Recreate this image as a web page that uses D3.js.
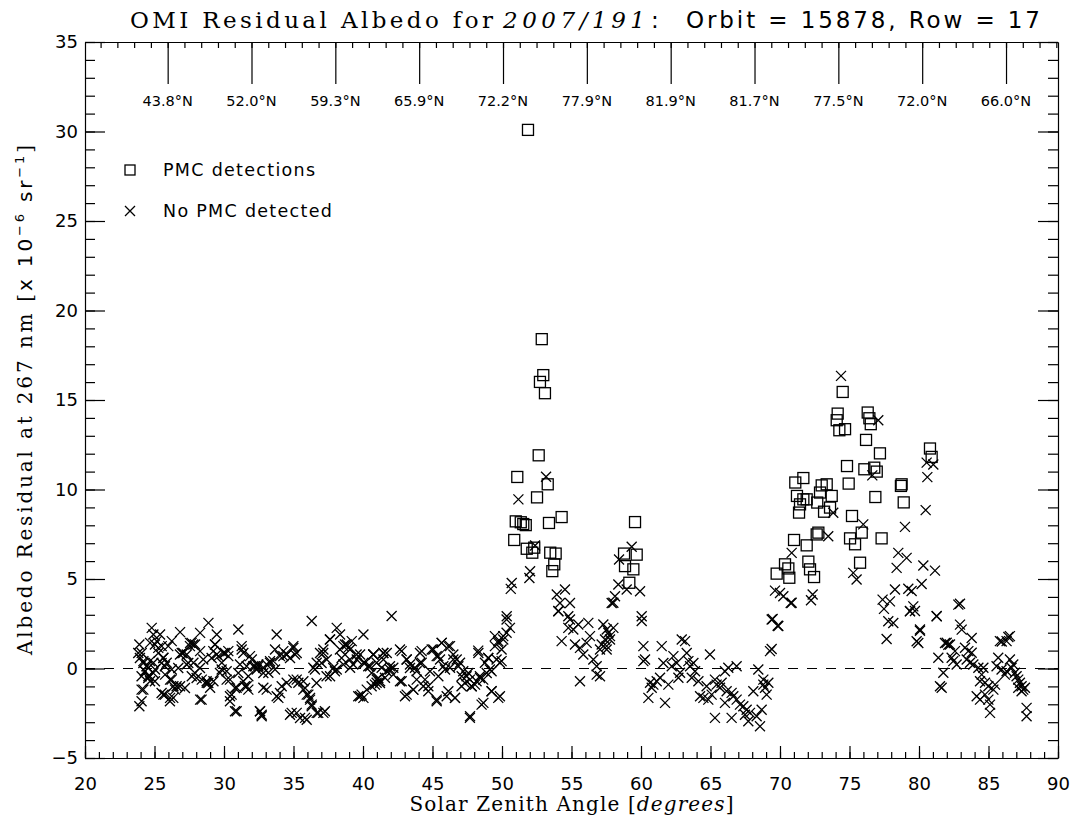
<!DOCTYPE html>
<html>
<head>
<meta charset="utf-8">
<script src="https://cdn.jsdelivr.net/npm/d3@7"></script>
<style>
  body { margin: 0; background: #fff; }
  svg { display: block; }
</style>
</head>
<body>
<svg id="chart" width="1071" height="821"></svg>
<script>
// tick labels
const xTicks = [20, 25, 30, 35, 40, 45, 50, 55, 60, 65, 70, 75, 80, 85, 90];
const yTicks = [-5, 0, 5, 10, 15, 20, 25, 30, 35];
const latLabels = ["43.8°N", "52.0°N", "59.3°N", "65.9°N", "72.2°N", "77.9°N",
                   "81.9°N", "81.7°N", "77.5°N", "72.0°N", "66.0°N"];

// [solar zenith angle, albedo residual]
const pmcDetections = [
  [51.87,30.09],[52.86,18.40],[52.97,16.39],[52.73,16.01],[53.09,15.38],[52.64,11.91],[51.10,10.70],
  [53.29,10.29],[52.52,9.56],[50.99,8.22],[51.35,8.17],[51.53,8.07],[51.71,8.01],[53.38,8.13],[54.29,8.46],
  [50.88,7.18],[51.78,6.69],[52.18,6.47],[52.32,6.75],[53.47,6.47],[53.86,6.42],[53.76,5.82],[53.62,5.44],
  [59.57,8.18],[58.78,6.42],[59.69,6.36],[58.85,5.72],[59.45,5.54],[59.16,4.79],
  [74.51,15.45],[74.15,14.24],[74.08,13.87],[74.27,13.31],[74.68,13.37],[76.31,14.30],[76.43,13.98],
  [76.53,13.65],[76.19,12.77],[77.19,12.02],[80.79,12.29],[80.91,11.82],[74.82,11.31],[76.07,11.13],
  [76.78,11.22],[76.96,11.00],[74.94,10.33],[78.75,10.29],[78.70,10.20],[71.10,10.39],[71.68,10.64],
  [73.00,10.23],[73.36,10.29],[76.86,9.58],[78.90,9.28],[71.22,9.64],[71.68,9.45],[71.92,9.45],
  [72.88,9.83],[73.72,9.64],[71.44,9.17],[72.68,9.27],[73.60,8.99],[71.37,8.71],[73.17,8.76],[75.18,8.52],
  [72.76,7.59],[72.64,7.49],[75.88,7.59],[75.04,7.27],[75.40,6.94],[77.31,7.27],[71.01,7.18],[71.92,6.88],
  [75.76,5.91],[70.36,5.82],[70.60,5.59],[69.76,5.30],[70.67,5.07],[72.04,5.97],[72.16,5.54],[72.45,5.11]
];

const noPmcDetected = [
  [23.91,-2.11],[24.07,-1.83],[23.83,0.87],[23.95,0.59],[24.2,0.31],[24.07,-0.43],[24.07,-1.18],[24.43,0.13],
  [24.31,-0.15],[24.55,-0.53],[24.67,0.41],[24.91,-0.25],[25.03,-0.71],[25.03,1.34],[25.27,1.15],[25.51,0.31],
  [25.63,0.59],[25.75,0.13],[25.51,-1.37],[25.75,-1.46],[25.99,1.25],[26.23,-0.62],[26.11,-1.83],[26.35,-1.64],
  [26.59,-0.99],[26.71,0.03],[26.83,0.78],[27.07,0.87],[27.19,-1.09],[27.31,0.22],[27.43,0.31],[27.55,1.25],
  [27.67,1.43],[27.79,1.34],[27.91,-0.25],[28.03,-0.53],[28.27,0.03],[28.39,-1.74],[28.51,0.50],[28.75,-0.71],
  [28.87,-0.81],[29.11,0.59],[29.23,0.97],[29.35,1.34],[29.47,0.78],[29.71,-0.25],[29.83,-0.06],[30.07,0.87],
  [30.19,-0.62],[30.31,0.69],[30.43,-1.83],[30.55,-1.46],[30.79,-1.09],[30.91,-2.39],[31.03,-0.25],[31.27,1.06],
  [31.39,-0.71],[31.63,-0.99],[31.75,-1.18],[31.87,0.69],[32.11,0.13],[32.35,-0.06],[32.47,0.13],[32.59,-2.39],
  [32.71,-2.58],[32.83,-0.25],[33.07,-1.18],[33.31,0.41],[33.55,0.41],[33.67,1.06],[33.91,-1.64],[34.03,-1.37],
  [34.27,0.69],[34.51,0.78],[34.75,0.59],[34.87,-2.48],[34.99,1.25],[35.11,0.78],[35.23,-0.62],[35.47,-2.77],
  [35.71,-0.71],[35.83,-1.09],[35.95,-2.86],[36.07,-1.46],[36.19,-1.64],[36.31,-2.02],[36.54,-0.06],[36.66,-0.81],
  [36.78,-2.48],[37.02,0.31],[37.14,0.87],[37.26,-2.39],[37.38,-0.43],[37.62,1.62],[37.86,0.03],[37.98,-0.15],
  [38.34,1.06],[38.46,0.59],[38.70,1.34],[38.94,1.15],[39.06,0.50],[39.30,0.22],[39.54,0.78],[39.66,-1.55],
  [39.90,-1.46],[40.14,0.31],[40.38,0.13],[40.62,-0.25],[40.74,0.78],[40.86,-0.90],[41.10,-0.53],[41.22,-0.81],
  [41.46,0.87],[41.70,-0.15],[41.94,0.13],[42.18,-0.34],[42.66,1.06],[42.78,-0.71],[43.02,-1.55],[43.14,0.50],
  [43.38,0.03],[43.62,-1.18],[43.86,-0.15],[44.10,0.31],[44.22,0.97],[44.46,-0.62],[44.70,-0.99],[44.82,-0.15],
  [45.06,1.06],[45.30,-1.83],[45.42,0.69],[45.66,1.43],[45.90,-0.06],[46.02,-1.55],[46.26,1.25],[46.50,0.50],
  [46.62,-1.64],[46.86,0.13],[47.10,-0.43],[47.34,-0.81],[47.58,-0.25],[47.70,-2.67],[47.82,-0.99],[48.06,-0.90],
  [48.30,0.87],[48.42,-0.53],[48.66,-1.92],[48.90,-0.25],[49.01,0.59],[49.25,-1.27],[49.49,1.25],[49.73,1.43],
  [49.85,-1.55],[49.97,0.41],[50.09,1.62],
  [24.80,2.27],[24.92,1.90],[25.40,1.90],[26.84,2.03],[28.28,1.99],[28.88,2.55],[29.48,1.90],[31.03,2.18],
  [33.79,1.90],[36.31,2.65],[38.11,2.27],[40.03,1.90],[37.63,1.62],[42.06,2.93],[50.33,2.74],[50.57,2.27],
  [49.49,1.81],[49.73,1.53],[50.09,1.81],[50.33,2.0],[45.66,1.43],
  [23.91,1.34],[24.08,0.87],[25.16,1.53],[25.52,1.25],[25.28,0.87],[24.68,1.43],[24.20,0.41],[24.44,0.13],
  [24.32,-0.15],[24.56,-0.43],[24.68,-0.71],[24.20,-1.18],[24.92,0.32],[25.04,-0.06],[25.64,0.60],[25.88,0.32],
  [25.76,-0.34],[26.12,-0.62],[26.36,-0.99],[25.64,-1.46],[26.12,-1.64],[26.48,-1.18],[26.84,-0.99],[26.24,-0.06],
  [26.24,1.53],[26.96,0.87],[27.32,0.78],[27.56,1.43],[27.92,1.34],[27.80,0.32],[27.68,-0.43],[28.28,0.97],
  [28.40,-0.62],[28.76,-0.80],[29.00,-1.08],[29.24,-0.71],[29.36,1.34],[29.60,0.69],[29.96,0.87],[30.31,0.97],
  [29.84,0.32],[30.19,-0.15],[30.43,-0.62],[30.43,-1.55],[30.79,-2.39],[31.27,1.25],[31.39,0.87],[31.15,0.22],
  [31.63,0.13],[31.75,-0.43],[31.51,-0.99],[30.91,-1.08],[32.0,0.50],[32.23,0.13],[32.47,0.22],[32.83,0.04],
  [33.07,0.22],[33.31,0.32],[34.03,0.69],[34.27,0.97],[34.51,0.78],[34.99,1.15],[35.23,0.87],[33.67,-0.06],
  [33.19,-0.24],[32.83,-1.08],[33.79,-1.55],[34.15,-0.99],[34.51,-0.80],[34.99,-0.62],[35.35,-0.80],[35.71,-1.18],
  [35.95,-1.46],[36.19,-1.74],[36.31,-2.11],[36.67,-2.48],[37.15,-2.48],[35.83,-2.76],[35.23,-2.48],[34.75,-2.58],
  [32.59,-2.39],[32.71,-2.67],[28.28,-1.74],[36.43,0.04],[36.67,0.32],[36.91,0.87],[37.15,1.06],[37.39,0.50],
  [38.35,1.90],[38.59,1.25],[38.83,1.34],[39.07,1.06],[39.19,1.53],[37.63,-0.43],[38.11,-0.06],[38.59,0.22],
  [39.07,0.04],[39.55,0.50],[39.79,0.78],[40.03,0.32],[40.51,0.13],[40.75,0.78],[40.99,-0.62],[41.23,-0.71],
  [41.47,0.50],[41.71,0.87],[40.03,-1.64],[39.79,-1.55],[40.27,-1.18],
  [40.74,0.78],[41.46,0.87],[40.98,0.32],[41.34,0.04],[41.94,-0.06],[42.18,0.04],[40.62,-0.99],[40.98,-0.80],
  [41.58,-0.52],[42.66,-0.71],[42.78,0.97],[43.14,0.50],[43.38,0.22],[43.74,0.04],[44.10,0.87],[44.22,0.32],
  [43.86,-0.62],[43.62,-1.18],[43.14,-1.46],[44.34,-0.99],[44.70,-1.27],[44.94,1.06],[45.30,0.69],[45.54,0.50],
  [45.78,0.13],[46.14,1.25],[46.50,0.78],[46.74,0.50],[46.98,0.32],[46.26,0.04],[45.42,-0.43],[46.14,-1.27],
  [46.62,-1.64],[45.30,-1.74],[47.21,-0.15],[47.45,-0.43],[47.69,-0.62],[47.09,-0.99],[47.81,-0.99],[48.17,-0.71],
  [48.41,-0.43],[48.29,1.0],[48.77,0.32],[49.01,0.59],[49.13,-0.06],[48.65,-0.62],
  [49.97,1.06],[49.61,0.50],[49.85,0.32],[49.25,-0.15],[49.73,-1.64],[49.25,-1.27],[48.53,-2.02],[47.69,-2.76],
  [53.17,10.71],[51.18,9.45],[52.38,6.87],[52.02,5.43],[51.97,5.06],[50.70,4.78],[50.63,4.45],[53.94,4.13],
  [54.53,4.41],[54.17,3.66],[54.89,3.66],[54.06,3.19],[50.34,2.92],[54.77,2.92],[59.33,6.80],[58.42,6.09],
  [58.37,4.69],[58.13,4.04],[57.89,3.66],[58.97,4.41],[59.93,4.32],[60.05,2.92],
  [54.05,3.21],[54.89,2.74],[54.77,2.27],[55.13,2.18],[55.49,2.46],[56.21,2.55],[54.29,1.53],[55.25,1.34],
  [55.61,1.15],[56.09,1.43],[56.33,1.81],[55.85,0.78],[56.57,0.50],[56.81,0.13],[56.81,-0.34],[55.61,-0.71],
  [57.29,2.46],[57.65,2.0],[58.01,2.27],[57.41,1.62],[57.77,1.62],[57.05,1.06],[57.53,1.25],[57.17,1.34],
  [58.01,3.67],[57.53,2.18],[57.77,1.81],[57.53,1.06],[57.05,-0.43],[60.05,2.65],[60.17,1.25],[60.29,0.50],
  [60.17,0.41],[61.49,1.25],[61.61,0.31],[60.65,-0.80],[60.89,-0.90],[61.13,-0.71],[60.77,-1.08],[60.53,-1.64],
  [61.73,-1.92],[61.37,-0.52],[61.97,-0.90],[62.33,0.69],[62.21,0.13],[62.57,0.31],[62.93,1.62],[63.17,1.53],
  [62.81,-0.24],[62.69,-0.52],[63.29,0.87],[63.41,0.41],[63.77,0.31],[63.53,0.13],[63.65,-0.52],[63.89,-0.15],
  [64.13,-0.71],[64.25,-1.55],[64.49,-1.64],[64.72,-0.99],[64.96,0.78],[64.84,-1.74],[65.32,-0.62],[65.44,-0.90],
  [65.68,-1.08],[65.80,-0.80],[65.32,-2.76],[65.08,-1.46],[66.04,-0.15],[66.28,0.04],[66.88,0.13],[66.16,-1.27],
  [66.04,-1.92],[66.52,-1.36],[66.64,-1.55],[66.88,-1.74],[67.12,-2.02],[66.52,-2.76],[67.36,-2.11],[67.60,-2.30],
  [67.84,-2.48],[67.48,-2.58],[67.72,-2.95],[68.08,-1.27],[68.44,-0.06],[68.32,-2.67],[68.56,-3.23],[68.68,-2.30],
  [68.80,-0.90],[68.92,-1.08],[69.04,-1.46],[69.16,-0.80],[68.80,-0.62],[69.28,0.97],[69.40,2.74],[69.88,2.37],
  [70.84,3.67],
  [74.39,16.35],[77.07,13.87],[76.64,10.79],[73.83,8.70],[75.99,8.05],[73.47,7.39],[70.84,6.46],[80.55,11.50],
  [81.03,11.40],[80.60,10.69],[80.48,8.85],[78.99,7.91],[75.27,5.34],[75.51,4.97],[72.35,4.13],[72.23,3.81],
  [69.64,4.35],[70.0,4.22],[70.24,4.04],[70.77,3.66],[69.47,2.77],[69.83,2.39],[69.40,1.09],[78.51,6.46],
  [79.11,6.18],[78.39,5.62],[80.31,5.75],[81.15,5.47],[78.27,4.41],[79.23,4.46],[80.19,4.72],[77.38,3.85],
  [77.91,3.75],[77.48,3.33],[79.35,3.19],[79.59,3.47],[81.27,2.91],[77.79,2.64],[78.15,2.54],[77.67,1.65],
  [80.07,2.11],[79.83,1.52],[79.95,1.42],[82.83,3.57],[82.95,2.45],[83.07,2.17],[83.79,1.70],[81.87,1.42],
  [82.11,1.33],[85.95,1.51],[86.43,1.76],
  [79.47,4.33],[79.35,3.21],[79.71,3.21],[80.07,2.18],[81.27,2.93],[82.95,3.62],[81.39,0.60],[81.75,-0.24],
  [81.51,-0.99],[81.63,-1.08],[81.99,1.44],[82.23,1.34],[82.59,0.97],[82.35,0.60],[82.47,0.41],[82.71,0.22],
  [83.31,1.16],[83.55,0.97],[83.79,0.88],[83.43,0.50],[83.67,0.32],[83.91,0.22],[84.27,0.04],[84.63,0.04],
  [84.51,-0.34],[84.39,-0.71],[84.75,-0.80],[84.99,-0.99],[84.15,-1.55],[84.39,-1.74],[84.75,-1.46],[84.99,-1.74],
  [85.11,-2.02],[85.11,-2.48],[85.35,-1.18],[85.47,-0.90],[85.70,0.60],[85.82,1.53],[86.30,1.53],[86.54,1.81],
  [85.58,0.13],[85.94,-0.06],[86.18,-0.34],[86.30,-0.15],[86.54,0.50],[86.66,0.04],[86.78,0.22],[86.90,-0.24],
  [87.02,-0.43],[87.14,-0.62],[87.26,-0.80],[87.38,-0.99],[87.50,-1.18],[87.62,-1.08],[87.14,-1.08],[87.38,-1.27],
  [87.74,-2.20],[87.74,-2.67]
];

const width = 1071, height = 821;
const margin = { top: 42, right: 13, bottom: 63, left: 85 };
const svg = d3.select("#chart");

const x = d3.scaleLinear().domain([20, 90]).range([margin.left, width - margin.right]);
const y = d3.scaleLinear().domain([-5, 35]).range([height - margin.bottom, margin.top]);
// eix superior: marques de latitud equiespaiades
const xTop = d3.scaleLinear().domain([0.014, 11.62]).range([margin.left, width - margin.right]);

const sansFont = "'DejaVu Sans', sans-serif";
const serifFont = "'DejaVu Serif', serif";

// Eix X inferior
svg.append("g")
  .attr("transform", `translate(0,${y(-5)})`)
  .call(d3.axisBottom(x).tickValues(d3.range(20, 91, 1)).tickSize(-6).tickFormat(""))
  .call(g => g.select(".domain").remove());
const xAxis = svg.append("g")
  .attr("transform", `translate(0,${y(-5)})`)
  .call(d3.axisBottom(x).tickValues(xTicks).tickSizeInner(-12).tickSizeOuter(0).tickPadding(19));
xAxis.selectAll("text").style("font-family", sansFont).style("font-size", "18px");

// Eix Y esquerre
svg.append("g")
  .attr("transform", `translate(${x(20)},0)`)
  .call(d3.axisLeft(y).tickValues(d3.range(-5, 36, 1)).tickSize(-10).tickFormat(""))
  .call(g => g.select(".domain").remove());
const yAxis = svg.append("g")
  .attr("transform", `translate(${x(20)},0)`)
  .call(d3.axisLeft(y).tickValues(yTicks).tickSizeInner(-20).tickSizeOuter(0).tickPadding(7)
    .tickFormat(d => d < 0 ? "\u2212" + Math.abs(d) : d));
yAxis.selectAll("text").style("font-family", sansFont).style("font-size", "18px");

// Eix Y dret
svg.append("g")
  .attr("transform", `translate(${x(90)},0)`)
  .call(d3.axisRight(y).tickValues(d3.range(-5, 36, 1)).tickSize(-10).tickFormat(""))
  .call(g => g.select(".domain").remove());
svg.append("g")
  .attr("transform", `translate(${x(90)},0)`)
  .call(d3.axisRight(y).tickValues(yTicks).tickSizeInner(-20).tickSizeOuter(0).tickFormat(""));

// Eix superior de latitud
svg.append("g")
  .attr("transform", `translate(0,${y(35)})`)
  .call(d3.axisTop(xTop).tickValues(d3.range(0.2, 11.61, 0.2)).tickSize(-6).tickFormat(""))
  .call(g => g.select(".domain").remove());
svg.append("g")
  .attr("transform", `translate(0,${y(35)})`)
  .call(d3.axisTop(xTop).tickValues(d3.range(1, 12)).tickSizeInner(-42).tickSizeOuter(0).tickFormat(""));
svg.append("g").selectAll("text")
  .data(latLabels)
  .join("text")
  .attr("x", (d, i) => xTop(i + 1))
  .attr("y", 106)
  .attr("text-anchor", "middle")
  .style("font-family", sansFont)
  .style("font-size", "14.5px")
  .text(d => d);

svg.selectAll(".tick line, .domain").attr("stroke", "#000").attr("stroke-width", 1.2);

// Línia del zero
svg.append("line")
  .attr("x1", x(20)).attr("x2", x(90))
  .attr("y1", y(0)).attr("y2", y(0))
  .attr("stroke", "#000")
  .attr("stroke-width", 1.2)
  .attr("stroke-dasharray", "10,9");

// Punts sense PMC
const cross = "M-5,-5L5,5M-5,5L5,-5";
svg.append("g").selectAll("path")
  .data(noPmcDetected)
  .join("path")
  .attr("transform", d => `translate(${x(d[0])},${y(d[1])})`)
  .attr("d", cross)
  .attr("fill", "none")
  .attr("stroke", "#000")
  .attr("stroke-width", 1.3);

// Deteccions PMC
svg.append("g").selectAll("rect")
  .data(pmcDetections)
  .join("rect")
  .attr("x", d => x(d[0]) - 5.5)
  .attr("y", d => y(d[1]) - 5.5)
  .attr("width", 11)
  .attr("height", 11)
  .attr("fill", "none")
  .attr("stroke", "#000")
  .attr("stroke-width", 1.3);

// Llegenda
const legend = svg.append("g").style("font-family", sansFont).style("font-size", "17.5px");
legend.append("rect")
  .attr("x", 125).attr("y", 165).attr("width", 10).attr("height", 10)
  .attr("fill", "none").attr("stroke", "#000").attr("stroke-width", 1.3);
legend.append("text").attr("x", 163).attr("y", 176).attr("letter-spacing", "1.3px").text("PMC detections");
legend.append("path")
  .attr("transform", "translate(130,211)")
  .attr("d", cross)
  .attr("fill", "none").attr("stroke", "#000").attr("stroke-width", 1.3);
legend.append("text").attr("x", 163).attr("y", 217).attr("letter-spacing", "1.3px").text("No PMC detected");

// Títol (trossos amb amplades fixes)
const titleParts = [
  { text: "OMI Residual Albedo for", x0: 130, len: 363, font: serifFont, style: "normal" },
  { text: "2007/191", x0: 503, len: 142, font: serifFont, style: "italic" },
  { text: ":", x0: 651, len: 6, font: sansFont, style: "normal" },
  { text: "Orbit = 15878, Row = 17", x0: 686, len: 354, font: sansFont, style: "normal" }
];
svg.append("g").selectAll("text")
  .data(titleParts)
  .join("text")
  .attr("x", d => d.x0)
  .attr("y", 28)
  .attr("textLength", d => d.len)
  .attr("lengthAdjust", "spacing")
  .style("font-family", d => d.font)
  .style("font-style", d => d.style)
  .style("font-size", "23px")
  .text(d => d.text);

// Etiqueta eix X
const xLabel = svg.append("text")
  .attr("x", (x(20) + x(90)) / 2)
  .attr("y", 811)
  .attr("text-anchor", "middle")
  .attr("textLength", 324)
  .attr("lengthAdjust", "spacing")
  .style("font-family", serifFont)
  .style("font-size", "20px");
xLabel.append("tspan").text("Solar Zenith Angle [");
xLabel.append("tspan").style("font-style", "italic").text("degrees");
xLabel.append("tspan").text("]");

// Etiqueta eix Y
const yLabel = svg.append("text")
  .attr("transform", `translate(32,${(y(-5) + y(35)) / 2}) rotate(-90)`)
  .attr("text-anchor", "middle")
  .attr("textLength", 510)
  .attr("lengthAdjust", "spacing")
  .style("font-family", serifFont)
  .style("font-size", "20px");
yLabel.append("tspan").text("Albedo Residual at 267 nm [");
yLabel.append("tspan").style("font-family", sansFont).text("x 10");
yLabel.append("tspan").style("font-family", sansFont).style("font-size", "13px").attr("dy", -8).text("\u22126");
yLabel.append("tspan").style("font-family", sansFont).attr("dy", 8).text(" sr");
yLabel.append("tspan").style("font-family", sansFont).style("font-size", "13px").attr("dy", -8).text("\u22121");
yLabel.append("tspan").attr("dy", 8).text("]");
</script>
</body>
</html>
